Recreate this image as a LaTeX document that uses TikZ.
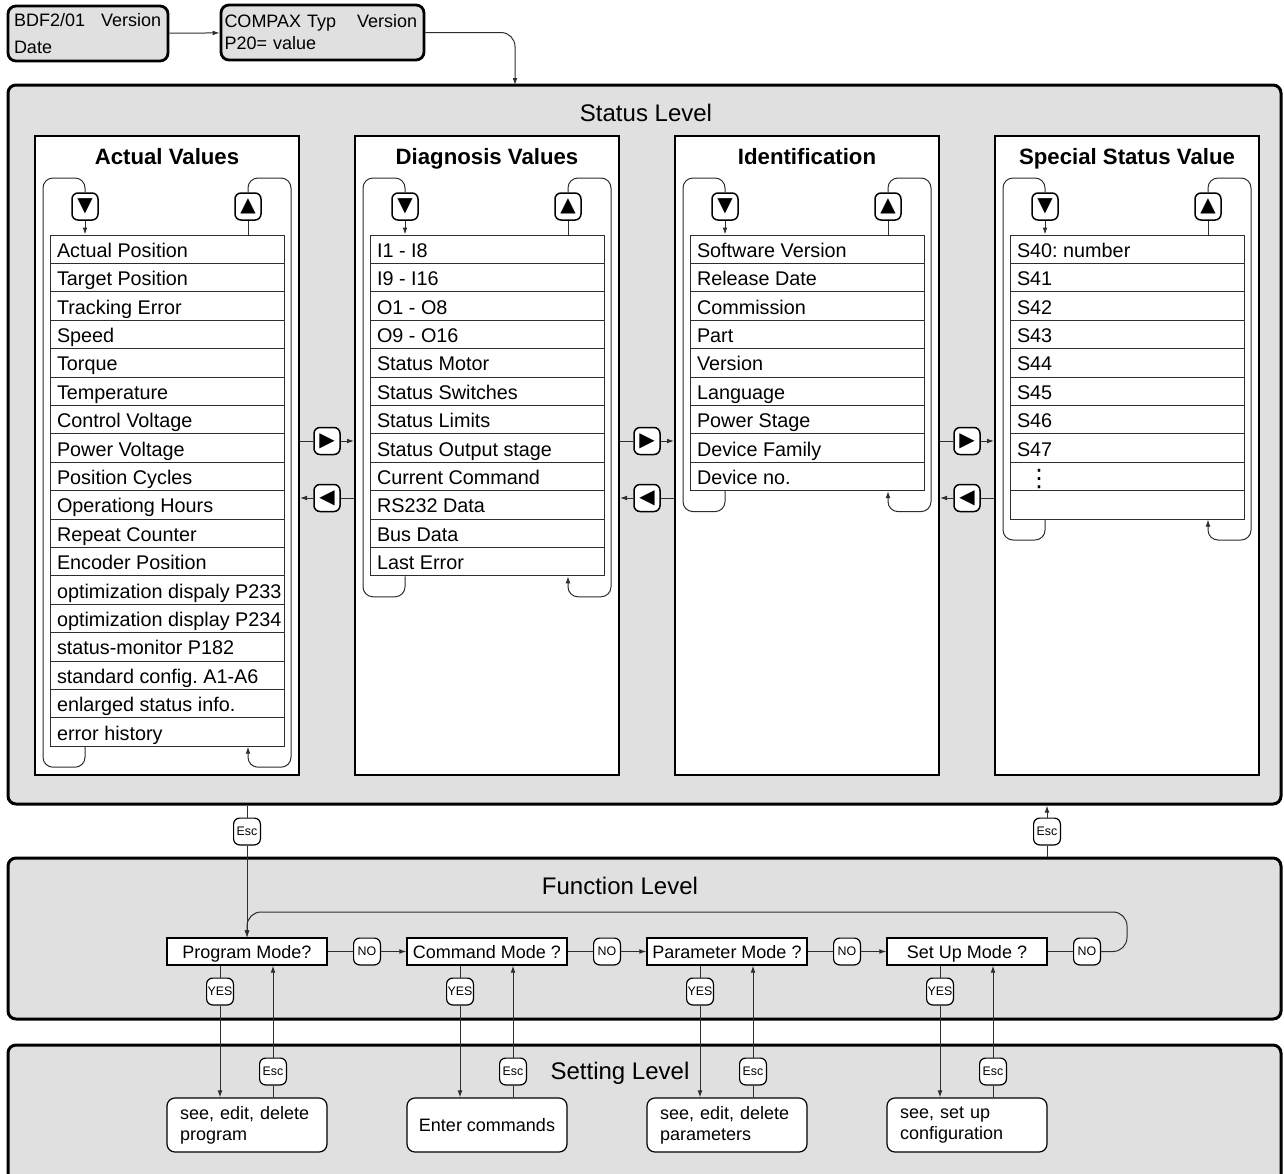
\documentclass[tikz,border=0pt]{standalone}
\usepackage{fontspec}
\setmainfont{Liberation Sans}
\newfontfamily\keyfont{DejaVu Sans}
\usetikzlibrary{arrows.meta}
\definecolor{levelgray}{RGB}{224,224,224}
\definecolor{linegray}{RGB}{45,45,45}
\frenchspacing
\tikzset{
    level/.style={draw, line width=1.5pt, rounded corners=4pt, fill=levelgray,
                  inner sep=0pt},
    leveltitle/.style={font=\fontsize{12}{14}\selectfont},
    topbox/.style={draw, line width=1.4pt, rounded corners=4pt, fill=levelgray,
                   minimum height=27.5pt, inner sep=0pt, align=left},
    column/.style={draw, line width=1pt, fill=white, minimum width=132pt,
                   inner sep=0pt},
    coltitle/.style={font=\bfseries\fontsize{11.1}{13}\selectfont,
                     text height=8.5pt, text depth=2.5pt},
    item/.style={draw=linegray, line width=0.5pt, fill=white,
                 minimum width=117pt, minimum height=14.2pt,
                 inner xsep=3.5pt, inner ysep=0pt,
                 text height=10pt, text depth=2pt,
                 font=\fontsize{9.9}{12}\selectfont},
    key/.style={draw, line width=0.75pt, rounded corners=3pt, fill=white,
                minimum width=13pt, minimum height=13.5pt, inner sep=0pt,
                font=\keyfont\fontsize{10}{10}\selectfont},
    tag/.style={draw, line width=0.6pt, rounded corners=3pt, fill=white,
                minimum width=13.4pt, minimum height=13.4pt, inner sep=0pt,
                font=\fontsize{6.2}{7}\selectfont},
    mode/.style={draw, line width=0.6pt, fill=white, minimum width=80pt,
                 minimum height=13.5pt, inner sep=0pt,
                 text height=8.2pt, text depth=1.2pt,
                 font=\fontsize{9}{10.5}\selectfont},
    task/.style={mode, rounded corners=4pt, minimum height=27pt,
                 text height=, text depth=},
    flow/.style={-{Latex[length=3.5pt, width=2.4pt]}, line width=0.5pt,
                 draw=linegray},
    wire/.style={line width=0.5pt, draw=linegray},
}

\begin{document}
\begin{tikzpicture}[x=0.5pt, y=-0.5pt]
    \useasboundingbox (0,0) rectangle (1284,1173);

    % the three levels
    \node[level, minimum width=636.5pt, minimum height=359.5pt] (status) at (644.5,444.5) {};
    \node[level, minimum width=636.5pt, minimum height=80.5pt] (function) at (644.5,938.5) {};
    \node[level, minimum width=636.5pt, minimum height=75pt] (setting) at (644.5,1120) {};
    \node[leveltitle] (statustitle) at (646,113) {Status Level};
    \node[leveltitle] (functiontitle) at (620,886) {Function Level};
    \node[leveltitle] (settingtitle) at (620,1073) {Setting Level};

    % start screens
    \node[topbox, minimum width=80pt, text width=74pt,
          font=\fontsize{9}{13.5}\selectfont] (bdf) at (88,33.5)
          {\mbox{BDF2/01\hspace{8pt}Version}\\Date};
    \node[topbox, minimum width=101.5pt, text width=98pt,
          font=\fontsize{9}{11}\selectfont] (compax) at (322.5,32.5)
          {\mbox{COMPAX Typ\hspace{10.5pt}Version}\\P20= value};
    \coordinate (entry) at (515,85);
    \draw[flow] (bdf) -- (compax);
    \draw[flow, rounded corners=7pt] (compax) -| (entry);

    % status columns
    \node[column, minimum height=319.5pt] (acol) at (167,455.5) {};
    \node[column, minimum height=319.5pt] (dcol) at (487,455.5) {};
    \node[column, minimum height=319.5pt] (icol) at (807,455.5) {};
    \node[column, minimum height=319.5pt] (scol) at (1127,455.5) {};
    \node[coltitle] (ahead) at (167,158) {Actual Values};
    \node[coltitle] (dhead) at (487,158) {Diagnosis Values};
    \node[coltitle] (ihead) at (807,158) {Identification};
    \node[coltitle] (shead) at (1127,158) {Special Status Value};

    \foreach \txt [count=\i] in {Actual Position, Target Position, Tracking Error,
        Speed, Torque, Temperature, Control Voltage, Power Voltage,
        Position Cycles, Operationg Hours, Repeat Counter, Encoder Position,
        optimization dispaly P233, optimization display P234,
        status-monitor P182, standard config. A1-A6, enlarged status info.,
        error history}
        \node[item] (a\i) at (167,220.8+28.4*\i) {\makebox[110pt][l]{\txt}};
    \foreach \txt [count=\i] in {I1 - I8, I9 - I16, O1 - O8, O9 - O16,
        Status Motor, Status Switches, Status Limits, Status Output stage,
        Current Command, RS232 Data, Bus Data, Last Error}
        \node[item] (d\i) at (487,220.8+28.4*\i) {\makebox[110pt][l]{\txt}};
    \foreach \txt [count=\i] in {Software Version, Release Date, Commission,
        Part, Version, Language, Power Stage, Device Family, Device no.}
        \node[item] (i\i) at (807,220.8+28.4*\i) {\makebox[110pt][l]{\txt}};
    \foreach \txt [count=\i] in {S40: number, S41, S42, S43, S44, S45, S46, S47,
        \hspace{5pt}\raisebox{-1pt}{\keyfont\fontsize{12}{12}\selectfont ⋮}, {}}
        \node[item] (s\i) at (1127,220.8+28.4*\i) {\makebox[110pt][l]{\txt}};

    % scroll keys and loops
    \foreach \col/\lx/\rows in {a/35/18, d/355/12, i/675/9, s/995/10} {
        \pgfmathsetmacro\listend{235+28.4*\rows}
        \node[key] (\col down) at (\lx+50,206.5) {▼};
        \node[key] (\col up) at (\lx+213,206.5) {▲};
        \draw[flow] (\col down) -- (\col down |- \col1.north);
        \draw[wire] (\col up) -- (\col up |- \col1.north);
        \draw[wire, rounded corners=5pt] (\col down |- \col\rows.south)
            -- (\lx+50,\listend+21) -| (\lx+8,178) -| (\col down);
        \draw[flow, rounded corners=5pt] (\col up) |- (\lx+256,178)
            |- (\lx+213,\listend+21) -- (\col up |- \col\rows.south);
    }

    % keys between the columns
    \foreach \col/\nxt/\lx in {a/d/35, d/i/355, i/s/675} {
        \node[key] (\col next) at (\lx+292,441) {▶};
        \node[key] (\col back) at (\lx+292,498) {◀};
        \draw[wire] (\col next -| \col col.east) -- (\col next);
        \draw[flow] (\col next) -- (\col next -| \nxt col.west);
        \draw[wire] (\col back -| \nxt col.west) -- (\col back);
        \draw[flow] (\col back) -- (\col back -| \col col.east);
    }

    % function level
    \foreach \k/\x/\q in {1/247/Program Mode?, 2/487/Command Mode ?,
        3/727/Parameter Mode ?, 4/967/Set Up Mode ?} {
        \node[mode] (m\k) at (\x,951.5) {\q};
        \node[tag] (no\k) at (\x+120,951.5) {NO};
        \node[tag] (yes\k) at (\x-27,991.5) {YES};
        \node[tag] (back\k) at (\x+26,1071.5) {Esc};
    }
    \node[tag] (up1) at (247,831.5) {Esc};
    \node[tag] (up2) at (1047,831.5) {Esc};

    % setting level
    \node[task, text width=67pt, align=left] (t1) at (247,1125) {see, edit, delete\\program};
    \node[task, align=center] (t2) at (487,1125) {Enter commands};
    \node[task, text width=67pt, align=left] (t3) at (727,1125) {see, edit, delete\\parameters};
    \node[task, text width=67pt, align=left] (t4) at (967,1125) {see, set up\\configuration};

    \draw[wire] (up1 |- status.south) -- (up1);
    \draw[flow] (up1) -- (m1);
    \draw[wire] (up2 |- function.north) -- (up2);
    \draw[flow] (up2) -- (up2 |- status.south);
    \foreach \k/\nxt in {1/2, 2/3, 3/4} {
        \draw[wire] (m\k) -- (no\k);
        \draw[flow] (no\k) -- (m\nxt);
    }
    \draw[wire] (m4) -- (no4);
    \draw[flow, rounded corners=7pt] (no4) -| (1127,912) -| (m1);
    \foreach \k in {1,2,3,4} {
        \draw[wire] (yes\k |- m\k.south) -- (yes\k);
        \draw[flow] (yes\k) -- (yes\k |- t\k.north);
        \draw[wire] (back\k |- t\k.north) -- (back\k);
        \draw[flow] (back\k) -- (back\k |- m\k.south);
    }

\end{tikzpicture}
\end{document}
